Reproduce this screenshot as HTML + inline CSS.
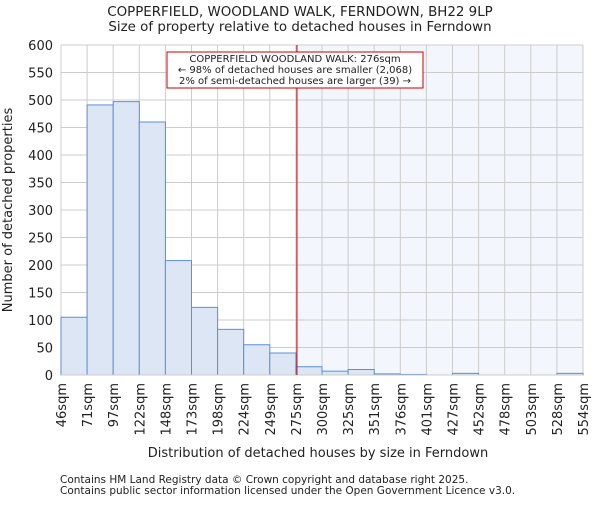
<!DOCTYPE html>
<html><head><meta charset="utf-8"><style>
body{margin:0;background:#fff;}
svg text{font-family:"DejaVu Sans","Liberation Sans",sans-serif;fill:#222;}
</style></head><body>
<svg id="chart" width="600" height="500" xmlns="http://www.w3.org/2000/svg">
<text x="300" y="16" font-size="13.4" text-anchor="middle">COPPERFIELD, WOODLAND WALK, FERNDOWN, BH22 9LP</text>
<text x="300" y="31" font-size="13.4" text-anchor="middle">Size of property relative to detached houses in Ferndown</text>
<g id="grid"></g>
<g id="bars"></g>
<g id="axes"></g>
<text transform="translate(12,210) rotate(-90)" font-size="13" text-anchor="middle">Number of detached properties</text>
<text x="318" y="457" font-size="13" text-anchor="middle">Distribution of detached houses by size in Ferndown</text>
<text x="60" y="483" font-size="10.5">Contains HM Land Registry data © Crown copyright and database right 2025.</text>
<text x="60" y="494" font-size="10.5">Contains public sector information licensed under the Open Government Licence v3.0.</text>
</svg>
<script>
const binLabels=["46sqm","71sqm","97sqm","122sqm","148sqm","173sqm","198sqm","224sqm","249sqm","275sqm","300sqm","325sqm","351sqm","376sqm","401sqm","427sqm","452sqm","478sqm","503sqm","528sqm","554sqm"];
const counts=[105,491,497,460,208,123,83,55,40,15,7,10,2,1,0,3,0,0,0,3];
const yTicks=[0,50,100,150,200,250,300,350,400,450,500,550,600];
const propertySize=276;
const annotationLines=["COPPERFIELD WOODLAND WALK: 276sqm","← 98% of detached houses are smaller (2,068)","2% of semi-detached houses are larger (39) →"];
const NS="http://www.w3.org/2000/svg";
const X0=61,X1=583,Y0=375,Y1=45,yMax=600;
const nb=counts.length,bw=(X1-X0)/nb;
const binX=i=>X0+i*bw;
const yS=v=>Y0-(v/yMax)*(Y0-Y1);
function sizeX(s){for(let i=0;i<binLabels.length-1;i++){const a=parseFloat(binLabels[i]),b=parseFloat(binLabels[i+1]);if(s>=a&&s<=b)return binX(i)+(s-a)/(b-a)*bw;}return X1;}
function mk(tag,attrs,parent){const e=document.createElementNS(NS,tag);for(const k in attrs)e.setAttribute(k,attrs[k]);parent.appendChild(e);return e;}
const grid=document.getElementById('grid'),bars=document.getElementById('bars'),axes=document.getElementById('axes'),svg=document.getElementById('chart');
const rx=sizeX(propertySize);
const sh=mk('rect',{x:rx,y:Y1,width:X1-rx,height:Y0-Y1,fill:'#f3f6fd'},grid);


yTicks.forEach(t=>{
 const l=mk('line',{x1:X0,x2:X1,y1:yS(t),y2:yS(t),stroke:'#cccccc','stroke-width':1},grid);
 
 
 const tx=mk('text',{x:X0-8,y:yS(t)+5,'font-size':13,'text-anchor':'end'},axes);
 tx.textContent=t;
 
 
});
binLabels.forEach((lb,i)=>{
 const x=binX(i);
 const l=mk('line',{x1:x,x2:x,y1:Y1,y2:Y0,stroke:'#cccccc','stroke-width':1},grid);
 
 
 const tx=mk('text',{transform:`translate(${x+5},383) rotate(-90)`,'font-size':13,'text-anchor':'end'},axes);
 tx.textContent=lb;
 
 
});
counts.forEach((c,i)=>{
 const r=mk('rect',{x:binX(i),y:yS(c),width:bw,height:Y0-yS(c),fill:'#dce6f4',stroke:'#5b8fd6','stroke-width':1},bars);
 
 
});
const ax=mk('line',{x1:X0,x2:X1,y1:Y0,y2:Y0,stroke:'#cccccc'},axes);


const ml=mk('line',{x1:rx,x2:rx,y1:Y1,y2:Y0,stroke:'#cc0000','stroke-width':1},svg);


const box=mk('rect',{x:167,y:52,width:256,height:36,fill:'#fff',stroke:'#cc0000','stroke-width':1},svg);


annotationLines.forEach((t,i)=>{
 const tx=mk('text',{x:295,y:62+i*11,'font-size':10,'text-anchor':'middle'},svg);
 tx.textContent=t;
 
 
});
</script>
</body></html>
